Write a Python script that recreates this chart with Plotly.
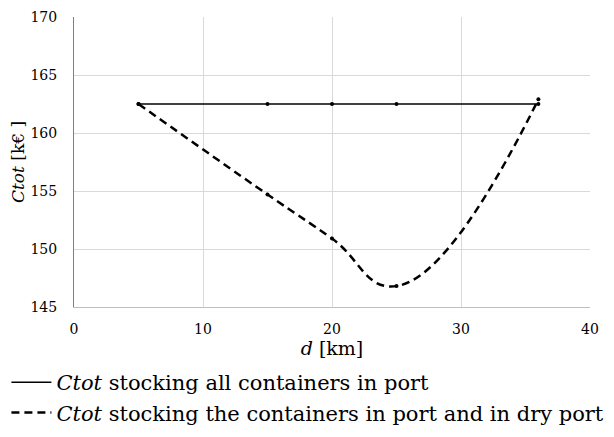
import plotly.graph_objects as go

d_km = [5, 15, 20, 25, 36]
ctot_port = [162.5, 162.5, 162.5, 162.5, 162.5]
ctot_dry = [162.5, 154.7, 150.9, 146.8, 162.9]

x_ticks = [0, 10, 20, 30, 40]
y_ticks = [145, 150, 155, 160, 165, 170]

FONT = "DejaVu Serif"

fig = go.Figure()
fig.add_trace(go.Scatter(
    x=d_km, y=ctot_port, mode="lines", legendgroup="a",
    name="<i>Ctot</i> stocking all containers in port",
    line=dict(color="black", width=1.5),
))
fig.add_trace(go.Scatter(
    x=d_km, y=ctot_dry, mode="lines", legendgroup="b",
    name="<i>Ctot</i> stocking the containers in port and in dry port",
    line=dict(color="black", width=2.5, dash="8px,5px", shape="spline", smoothing=1.3),
))
fig.add_trace(go.Scatter(
    x=d_km, y=ctot_port, mode="markers", showlegend=False,
    marker=dict(color="black", size=4),
))
fig.add_trace(go.Scatter(
    x=d_km, y=ctot_dry, mode="markers", showlegend=False,
    marker=dict(color="black", size=4),
))

fig.update_layout(
    width=614, height=437,
    margin=dict(l=74, r=24, t=17, b=130, autoexpand=False),
    paper_bgcolor="white", plot_bgcolor="white",
    font=dict(family=FONT, color="black", size=14),
    legend=dict(
        orientation="v", x=-0.131, y=-0.19, xanchor="left", yanchor="top",
        font=dict(family=FONT, size=21, color="black"),
        bgcolor="rgba(0,0,0,0)", tracegroupgap=0, itemwidth=40,
    ),
    showlegend=True,
)
fig.update_xaxes(
    range=[0, 40], tickvals=x_ticks, ticktext=[str(v) for v in x_ticks],
    showgrid=True, gridcolor="#d9d9d9", gridwidth=1, automargin=False,
    showline=True, linecolor="#bfbfbf", linewidth=1, zeroline=False,
    ticks="", ticklabelstandoff=9,
    tickfont=dict(family=FONT, size=14, color="black"),
    title=dict(text="<i>d</i> [km]", font=dict(family=FONT, size=19, color="black"), standoff=0),
)
fig.update_yaxes(
    range=[145, 170], tickvals=y_ticks, ticktext=[str(v) for v in y_ticks],
    showgrid=True, gridcolor="#d9d9d9", gridwidth=1, automargin=False,
    showline=True, linecolor="#7f7f7f", linewidth=1, zeroline=False,
    ticks="", ticklabelstandoff=13,
    tickfont=dict(family=FONT, size=14, color="black"),
    title=dict(text="<i>Ctot</i> [k€ ]", font=dict(family=FONT, size=17, color="black"), standoff=1),
)

fig.write_html("out.html")
